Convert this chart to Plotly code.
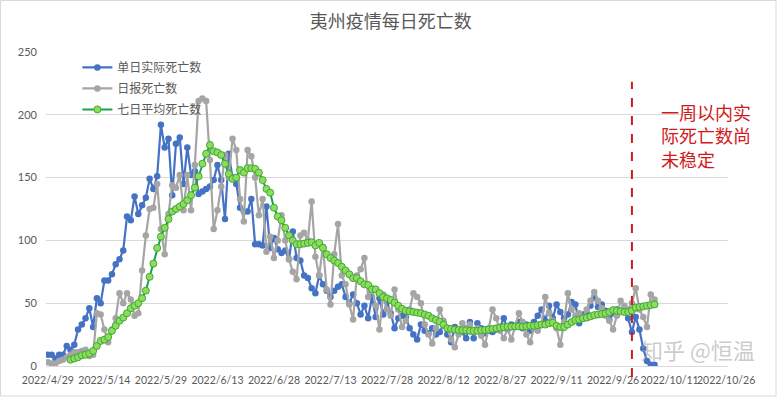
import pandas as pd
import plotly.graph_objects as go

# ---------------- data ----------------
start_date = "2022-04-29"

actual_deaths = [  # 单日实际死亡数 (blue)
    9, 9, 6, 9, 9, 16, 13, 17, 29, 33,
    38, 46, 31, 54, 50, 68, 68, 73, 81, 85,
    92, 119, 116, 135, 121, 128, 134, 149, 141, 151,
    192, 174, 181, 136, 177, 182, 145, 174, 152, 155,
    137, 139, 141, 143, 148, 160, 148, 117, 169, 150,
    145, 126, 123, 123, 133, 97, 97, 96, 127, 94,
    102, 93, 90, 92, 85, 107, 86, 84, 72, 70,
    62, 58, 72, 65, 60, 55, 60, 63, 65, 55,
    50, 57, 50, 41, 48, 38, 55, 39, 54, 41,
    51, 42, 30, 38, 40, 39, 30, 25, 21, 33,
    28, 26, 30, 25, 27, 33, 25, 19, 31, 28,
    27, 22, 35, 22, 34, 30, 26, 28, 27, 29,
    31, 38, 29, 33, 31, 35, 30, 33, 28, 35,
    40, 45, 36, 48, 38, 49, 43, 38, 41, 51,
    49, 34, 41, 42, 48, 55, 47, 49, 44, 37,
    42, 45, 44, 44, 38, 27, 39, 29, 14, 4,
    1, 1,
]

reported_deaths = [  # 日报死亡数 (gray)
    3, 2, 2, 4, 5, 7, 9, 11, 11, 12,
    13, 8, 9, 42, 41, 29, 19, 29, 38, 58,
    50, 58, 53, 40, 42, 76, 104, 125, 126, 145,
    109, 89, 121, 144, 142, 152, 124, 152, 124, 160,
    211, 213, 211, 164, 109, 124, 143, 168, 150, 181,
    172, 133, 115, 172, 167, 150, 120, 133, 91, 103,
    86, 100, 120, 100, 85, 75, 69, 104, 106, 100,
    131, 87, 72, 95, 61, 49, 89, 113, 72, 65,
    49, 37, 72, 77, 86, 55, 62, 48, 29, 57,
    45, 40, 61, 45, 31, 36, 45, 58, 55, 50,
    33, 25, 18, 30, 45, 36, 30, 21, 15, 25,
    34, 30, 33, 27, 30, 24, 17, 30, 45, 38,
    28, 22, 30, 21, 32, 42, 35, 25, 19, 30,
    28, 33, 55, 42, 36, 30, 17, 35, 58, 45,
    40, 42, 38, 45, 52, 59, 52, 46, 40, 36,
    29, 40, 52, 48, 45, 50, 62, 45, 39, 31,
    57, 53,
]

avg7_deaths = [  # 七日平均死亡数 (green)
    None, None, None, None, None, None, 5, 6, 7, 8.5,
    9, 10, 12, 16, 20, 21, 23, 28, 32, 36,
    38.5, 42, 46, 48, 50, 54, 60, 71, 81.5, 94,
    103, 110, 117, 123, 125, 127, 129, 132, 136, 142,
    151, 161, 169, 176, 171, 170, 168, 161, 153, 149,
    150, 156, 154, 157.5, 157.5, 157, 154, 148, 141, 138,
    126, 119, 116, 110, 104, 100, 97, 97, 97.5, 98,
    98.5, 96, 98, 94, 89, 86, 84, 82, 79, 76,
    73, 70, 70, 67.5, 65, 64.5, 61, 61, 58, 55,
    54, 52.6, 50.5, 48, 45.5, 44, 43.5, 43, 42.5, 42,
    41, 40, 38, 36.6, 35.3, 33, 30, 29.5, 29, 28.7,
    28.5, 28.5, 28, 28, 28, 28.5, 28.7, 29, 29.5, 30,
    30.5, 31, 31.3, 31.3, 31.5, 31.5, 31.3, 31.5, 32, 32,
    32.5, 33, 33, 34, 34.5, 32, 31, 31, 33, 35,
    36.5, 37, 38, 38.5, 39.5, 40.5, 41, 41.5, 42, 43,
    44.5, 44, 43.5, 43, 43, 44, 46.5, 47, 47.5, 48,
    48.5, 49,
]

tick_labels = ["2022/4/29", "2022/5/14", "2022/5/29", "2022/6/13", "2022/6/28",
               "2022/7/13", "2022/7/28", "2022/8/12", "2022/8/27", "2022/9/11",
               "2022/9/26", "2022/10/11", "2022/10/26"]
y_ticks = [0, 50, 100, 150, 200, 250]
unstable_from = "2022-10-01"
title_text = "夷州疫情每日死亡数"
note_text = "一周以内实<br>际死亡数尚<br>未稳定"
series_names = ["单日实际死亡数", "日报死亡数", "七日平均死亡数"]

# ---------------- figure ----------------
dates_all = pd.date_range(start_date, periods=len(reported_deaths), freq="D")
tick_vals = pd.to_datetime([f"{s[:4]}-{s.split('/')[1]}-{s.split('/')[2]}" for s in tick_labels])

CJK = "Noto Sans CJK SC"
NUM = "Lato"
GREY_TXT = "#595959"

fig = go.Figure()
fig.add_trace(go.Scatter(
    x=dates_all[:len(actual_deaths)], y=actual_deaths, name=series_names[0],
    mode="lines+markers", legendgroup="a",
    line=dict(color="#4472C4", width=2.2),
    marker=dict(color="#4472C4", size=6.5),
))
fig.add_trace(go.Scatter(
    x=dates_all[:len(reported_deaths)], y=reported_deaths, name=series_names[1],
    mode="lines+markers", legendgroup="b",
    line=dict(color="#A5A5A5", width=2.2),
    marker=dict(color="#A5A5A5", size=6.5),
))
fig.add_trace(go.Scatter(
    x=dates_all[:len(avg7_deaths)], y=avg7_deaths, name=series_names[2],
    mode="lines+markers", legendgroup="c",
    line=dict(color="#16A34A", width=2),
    marker=dict(color="#8EDC5A", size=7, line=dict(color="#3DAA3A", width=1)),
))

# red dashed marker line
fig.add_shape(type="line", xref="x", yref="paper",
              x0=unstable_from, x1=unstable_from, y0=-0.035, y1=0.905,
              line=dict(color="#D11A1A", width=2, dash="dash"))

# chart border
fig.add_shape(type="rect", xref="paper", yref="paper",
              x0=(0.5 - 46) / 682, x1=(776 - 46) / 682,
              y0=(366 - 396) / 314, y1=(366 - 0.5) / 314,
              line=dict(color="#D9D9D9", width=1))

fig.add_annotation(text=note_text, xref="paper", yref="paper",
                   x=(659 - 46) / 682, y=(366 - 97) / 314, xanchor="left", yanchor="top",
                   align="left", showarrow=False,
                   font=dict(family=CJK, size=18, color="#D11A1A"))

# watermark
fig.add_annotation(text="知乎 @恒温", xref="paper", yref="paper",
                   x=(698 - 46) / 682, y=(366 - 349) / 314, xanchor="center", yanchor="middle",
                   showarrow=False,
                   font=dict(family=CJK, size=22, color="rgba(160,160,160,0.55)"))

fig.update_layout(
    width=777, height=397,
    margin=dict(l=46, r=49, t=52, b=31, autoexpand=False),
    paper_bgcolor="white", plot_bgcolor="white",
    title=dict(text=title_text, x=0.503, xref="container", xanchor="center",
               y=1 - 22 / 397, yref="container", yanchor="middle",
               font=dict(family=CJK, size=18, color=GREY_TXT)),
    showlegend=True,
    legend=dict(x=0.046, y=0.997, xanchor="left", yanchor="top",
                bgcolor="rgba(0,0,0,0)", font=dict(family=CJK, size=12, color=GREY_TXT),
                tracegroupgap=2, itemwidth=30),
    xaxis=dict(range=["2022-04-28 12:00", "2022-10-26 12:00"],
               tickmode="array", tickvals=tick_vals, ticktext=tick_labels,
               tickangle=0, automargin=False, ticklabelstandoff=4,
               showgrid=False, showline=True, linecolor="#D9D9D9", linewidth=1,
               ticks="", tickfont=dict(family=NUM, size=10.5, color=GREY_TXT), zeroline=False),
    yaxis=dict(range=[0, 250], tickmode="array", tickvals=y_ticks, automargin=False,
               showgrid=True, gridcolor="#D9D9D9", gridwidth=1, zeroline=False,
               showline=False, ticks="", ticklabelstandoff=8,
               tickfont=dict(family=NUM, size=11, color=GREY_TXT)),
)

fig.write_html("out.html", config={"displayModeBar": False},
               post_script="document.body.style.margin='0';")
